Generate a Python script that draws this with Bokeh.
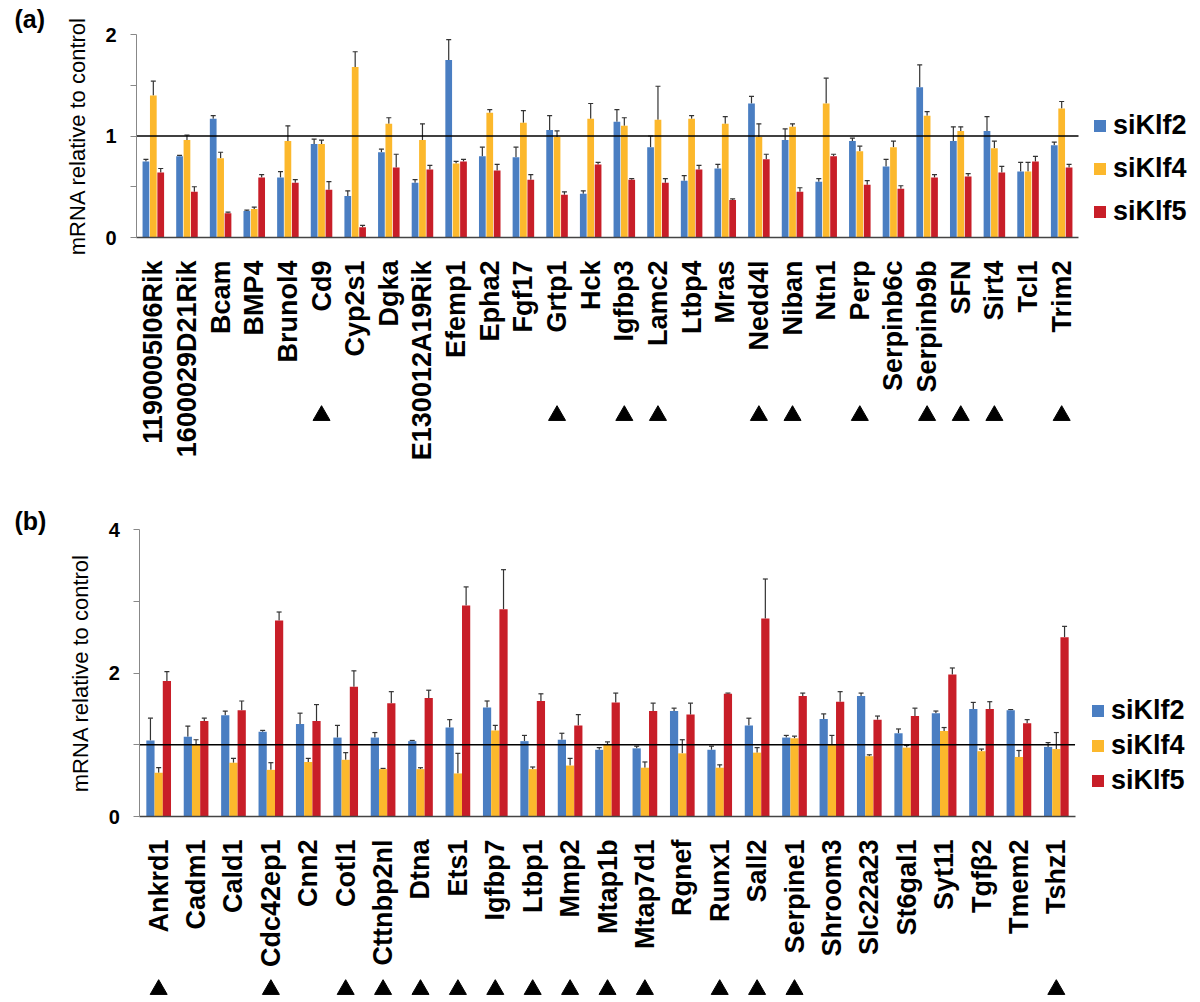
import math
from bokeh.plotting import figure
from bokeh.models import (ColumnDataSource, FactorRange, Range1d, FixedTicker,
                          Whisker, TeeHead, Legend, LegendItem, Label)
from bokeh.transform import dodge
from bokeh.layouts import column
from bokeh.embed import file_html
from bokeh.resources import INLINE

# ---------------- data: panel (a) ----------------
genes_a = ["1190005I06Rik", "1600029D21Rik", "Bcam", "BMP4", "Brunol4", "Cd9", "Cyp2s1", "Dgka",
           "E130012A19Rik", "Efemp1", "Epha2", "Fgf17", "Grtp1", "Hck", "Igfbp3", "Lamc2", "Ltbp4",
           "Mras", "Nedd4l", "Niban", "Ntn1", "Perp", "Serpinb6c", "Serpinb9b", "SFN", "Sirt4",
           "Tcl1", "Trim2"]
klf2_a = [0.75, 0.80, 1.17, 0.26, 0.59, 0.92, 0.41, 0.84, 0.54, 1.75, 0.80, 0.79, 1.06, 0.43,
          1.14, 0.89, 0.56, 0.68, 1.32, 0.96, 0.55, 0.95, 0.70, 1.48, 0.95, 1.05, 0.65, 0.91]
klf2_a_sd = [0.02, 0.01, 0.03, 0.01, 0.06, 0.05, 0.05, 0.03, 0.03, 0.20, 0.09, 0.10, 0.14, 0.03,
             0.12, 0.11, 0.05, 0.04, 0.07, 0.11, 0.03, 0.03, 0.07, 0.22, 0.14, 0.14, 0.09, 0.03]
klf4_a = [1.40, 0.96, 0.78, 0.28, 0.95, 0.92, 1.68, 1.12, 0.96, 0.73, 1.23, 1.13, 0.99, 1.17,
          1.10, 1.16, 1.17, 1.12, 0.99, 1.09, 1.32, 0.85, 0.89, 1.20, 1.05, 0.88, 0.65, 1.27]
klf4_a_sd = [0.14, 0.05, 0.06, 0.02, 0.15, 0.04, 0.15, 0.06, 0.16, 0.02, 0.03, 0.12, 0.06, 0.15,
             0.08, 0.33, 0.03, 0.07, 0.13, 0.03, 0.25, 0.05, 0.06, 0.04, 0.04, 0.07, 0.09, 0.07]
klf5_a = [0.64, 0.45, 0.24, 0.59, 0.54, 0.47, 0.10, 0.69, 0.67, 0.75, 0.66, 0.57, 0.42, 0.72,
          0.57, 0.54, 0.67, 0.37, 0.77, 0.45, 0.80, 0.52, 0.48, 0.59, 0.60, 0.64, 0.75, 0.69]
klf5_a_sd = [0.04, 0.05, 0.01, 0.03, 0.03, 0.08, 0.02, 0.13, 0.04, 0.02, 0.06, 0.05, 0.03, 0.02,
             0.01, 0.04, 0.04, 0.01, 0.05, 0.04, 0.02, 0.04, 0.03, 0.03, 0.03, 0.06, 0.05, 0.03]
marked_a = ["Cd9", "Grtp1", "Igfbp3", "Lamc2", "Nedd4l", "Niban", "Perp", "Serpinb9b", "SFN",
            "Sirt4", "Trim2"]

# ---------------- data: panel (b) ----------------
genes_b = ["Ankrd1", "Cadm1", "Cald1", "Cdc42ep1", "Cnn2", "Cotl1", "Cttnbp2nl", "Dtna", "Ets1",
           "Igfbp7", "Ltbp1", "Mmp2", "Mtap1b", "Mtap7d1", "Rgnef", "Runx1", "Sall2", "Serpine1",
           "Shroom3", "Slc22a23", "St6gal1", "Syt11", "Tgfβ2", "Tmem2", "Tshz1"]
klf2_b = [1.06, 1.11, 1.41, 1.18, 1.29, 1.10, 1.10, 1.05, 1.24, 1.52, 1.05, 1.07, 0.93, 0.95,
          1.47, 0.93, 1.27, 1.10, 1.36, 1.68, 1.16, 1.44, 1.50, 1.48, 0.97]
klf2_b_sd = [0.31, 0.15, 0.06, 0.02, 0.15, 0.17, 0.07, 0.01, 0.11, 0.09, 0.08, 0.09, 0.03, 0.03,
             0.04, 0.05, 0.10, 0.03, 0.07, 0.04, 0.06, 0.03, 0.09, 0.01, 0.06]
klf4_b = [0.61, 1.00, 0.75, 0.65, 0.76, 0.79, 0.66, 0.66, 0.60, 1.20, 0.66, 0.71, 1.00, 0.68,
          0.88, 0.68, 0.89, 1.09, 1.01, 0.84, 0.96, 1.19, 0.91, 0.83, 0.94]
klf4_b_sd = [0.07, 0.07, 0.06, 0.10, 0.05, 0.10, 0.01, 0.02, 0.28, 0.07, 0.03, 0.10, 0.04, 0.08,
             0.19, 0.04, 0.07, 0.03, 0.12, 0.02, 0.03, 0.05, 0.03, 0.09, 0.23]
klf5_b = [1.89, 1.33, 1.48, 2.73, 1.33, 1.81, 1.58, 1.65, 2.94, 2.89, 1.61, 1.27, 1.59, 1.47,
          1.42, 1.71, 2.76, 1.68, 1.60, 1.35, 1.40, 1.98, 1.50, 1.30, 2.50]
klf5_b_sd = [0.13, 0.04, 0.13, 0.12, 0.23, 0.22, 0.16, 0.11, 0.26, 0.55, 0.10, 0.15, 0.13, 0.11,
             0.16, 0.01, 0.55, 0.04, 0.14, 0.05, 0.11, 0.09, 0.10, 0.05, 0.15]
marked_b = ["Ankrd1", "Cdc42ep1", "Cotl1", "Cttnbp2nl", "Dtna", "Ets1", "Igfbp7", "Ltbp1", "Mmp2",
            "Mtap1b", "Mtap7d1", "Runx1", "Sall2", "Serpine1", "Tshz1"]

series_names = ["siKlf2", "siKlf4", "siKlf5"]
colors = ["#4a7ec2", "#fcb82c", "#c81e28"]
FONT = "Liberation Sans"
W = 1200


def make_panel(tag, genes, vals, sds, marked, ymax, ticks, minor, height,
               x0_px, x1_px, top_px, zero_px, bar_w, offs, legend_dx, legend_bottom_px,
               legend_spacing, tri_px):
    n = len(genes)
    data = {"gene": genes}
    for k, (v, s) in enumerate(zip(vals, sds)):
        data[f"v{k}"] = v
        data[f"hi{k}"] = [a + b for a, b in zip(v, s)]
    src = ColumnDataSource(data)

    # layout: the frame covers the figure; the bar area spans x0_px..x1_px and top_px..zero_px
    ppu_x = (x1_px - x0_px) / n
    pad = (W - x1_px) / ppu_x                      # same padding on both sides
    left_border = int(round(x0_px - pad * ppu_x))
    ppu_y = (zero_px - top_px) / ymax
    ytop = ymax + top_px / ppu_y
    ybot = -(height - zero_px) / ppu_y

    p = figure(width=W, height=height,
               x_range=FactorRange(*genes, range_padding=pad, range_padding_units="absolute"),
               y_range=Range1d(ybot, ytop), output_backend="svg", toolbar_location=None,
               min_border_left=left_border, min_border_right=0, min_border_top=0,
               min_border_bottom=0)
    p.outline_line_color = None
    p.xgrid.visible = False
    p.ygrid.visible = False

    renderers = []
    for k in range(3):
        r = p.vbar(x=dodge("gene", offs[k], range=p.x_range), top=f"v{k}", width=bar_w,
                   source=src, fill_color=colors[k], line_color=None)
        renderers.append(r)
        w = Whisker(base=dodge("gene", offs[k], range=p.x_range), upper=f"hi{k}",
                    lower=f"v{k}", source=src, line_color="#333333", line_width=1.2,
                    upper_head=TeeHead(size=5, line_color="#333333", line_width=1.2),
                    lower_head=None)
        p.add_layout(w)

    # reference line at 1 across the bar area
    p.segment(x0=[0], x1=[n], y0=[1], y1=[1], line_color="black", line_width=1.6)

    # marked genes (triangles under the labels)
    tri_y = -(tri_px - zero_px) / ppu_y
    p.scatter(x=marked, y=[tri_y] * len(marked), marker="triangle", size=17,
              fill_color="black", line_color="black")

    # x axis fixed at y = 0
    xa = p.xaxis[0]
    xa.fixed_location = 0
    xa.bounds = (0, n)
    xa.axis_line_color = "#444444"
    xa.axis_line_width = 1.5
    xa.major_tick_line_color = None
    xa.minor_tick_line_color = None
    xa.major_label_orientation = math.pi / 2
    xa.major_label_standoff = 17
    xa.major_label_text_font = FONT
    xa.major_label_text_font_style = "bold"
    xa.major_label_text_font_size = "27px"
    xa.major_label_text_color = "black"

    # y axis fixed at the left edge of the first category
    ya = p.yaxis[0]
    ya.fixed_location = 0
    ya.bounds = (0, ymax)
    ya.ticker = FixedTicker(ticks=ticks, minor_ticks=minor)
    ya.axis_line_color = "#888888"
    ya.major_tick_line_color = "#888888"
    ya.minor_tick_line_color = "#888888"
    ya.major_tick_in = 0
    ya.major_tick_out = 6
    ya.minor_tick_in = 0
    ya.minor_tick_out = 6
    ya.major_label_standoff = 14
    ya.major_label_text_font = FONT
    ya.major_label_text_font_style = "bold"
    ya.major_label_text_font_size = "20px"
    ya.major_label_text_color = "black"
    ya.axis_label = "mRNA relative to control"
    ya.axis_label_text_font = FONT
    ya.axis_label_text_font_style = "normal"
    ya.axis_label_text_font_size = "22px"
    ya.axis_label_text_color = "black"
    ya.axis_label_standoff = 12

    legend = Legend(items=[LegendItem(label=nm, renderers=[r]) for nm, r in zip(series_names, renderers)],
                    location=(x1_px - left_border + legend_dx, height - legend_bottom_px),
                    orientation="vertical", glyph_width=15, glyph_height=15,
                    label_standoff=6, label_height=30, spacing=legend_spacing, padding=0, margin=0,
                    border_line_color=None, background_fill_alpha=0,
                    label_text_font=FONT, label_text_font_style="bold",
                    label_text_font_size="27px", label_text_color="black")
    p.add_layout(legend)

    p.add_layout(Label(x=-pad, y=ytop, x_units="data", y_units="data", text=tag,
                       y_offset=-4, text_font=FONT, text_font_style="bold",
                       text_font_size="25px", text_baseline="top", text_align="left",
                       text_color="black"))
    return p


pa = make_panel("(a)", genes_a, [klf2_a, klf4_a, klf5_a], [klf2_a_sd, klf4_a_sd, klf5_a_sd],
                marked_a, 2, [0, 1, 2], [0.5, 1.5], 502, 136, 1078, 34, 237, 0.2,
                [-0.22, 0.0, 0.22], 14, 227, 12, 415)
pb = make_panel("(b)", genes_b, [klf2_b, klf4_b, klf5_b], [klf2_b_sd, klf4_b_sd, klf5_b_sd],
                marked_b, 4, [0, 2, 4], [1, 3], 498, 135, 1074, 27, 314, 0.22,
                [-0.22, 0.0, 0.22], 11, 294, 4, 487)

layout = column(pa, pb)
open("out.html", "w").write(file_html(layout, INLINE))
